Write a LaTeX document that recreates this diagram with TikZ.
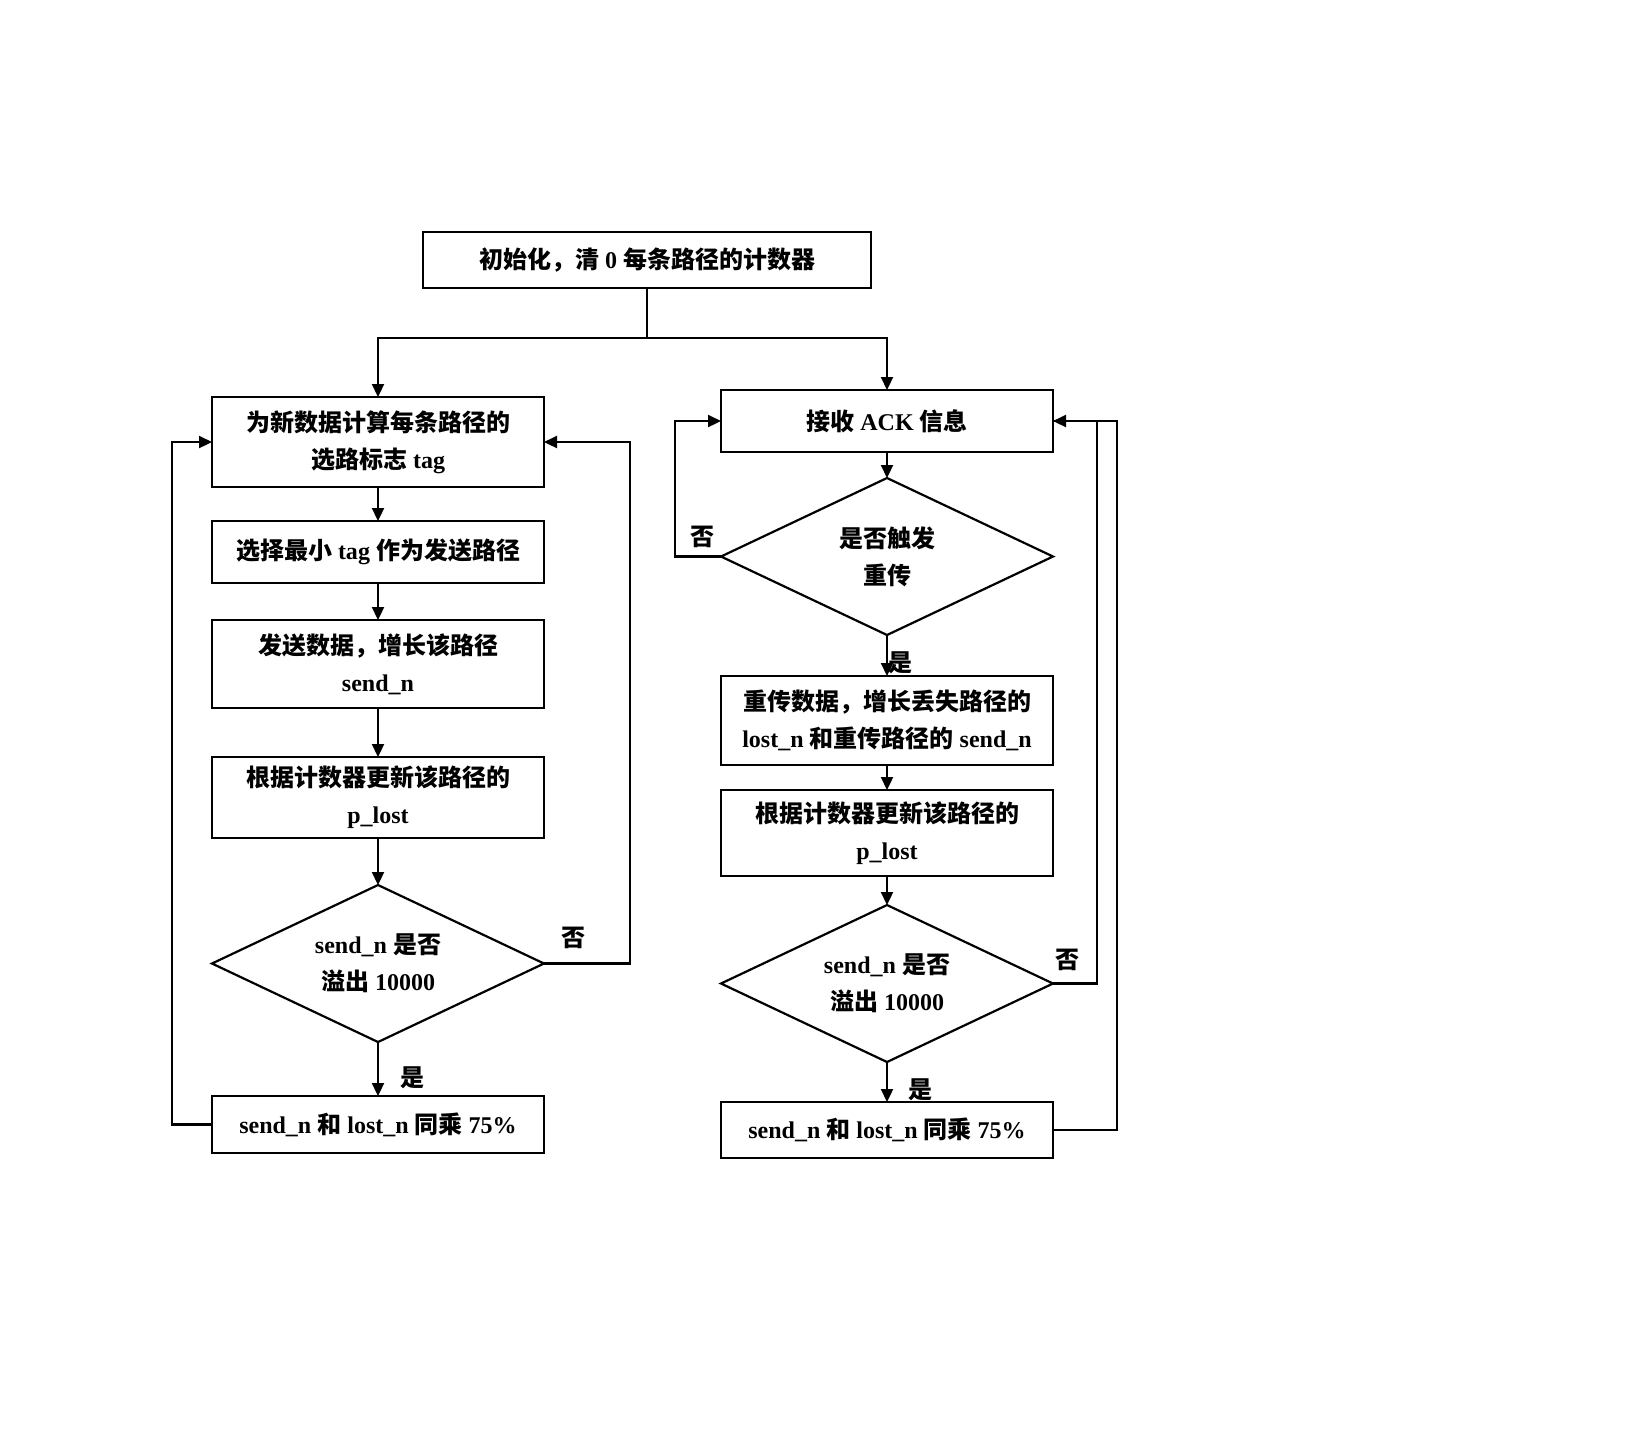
\documentclass[tikz,border=0pt]{standalone}
\usepackage{fontspec}
\setmainfont{Liberation Serif}
\newfontfamily\cjkfont{Noto Sans CJK SC}
\newcommand{\zh}[1]{{\cjkfont #1}}
\usetikzlibrary{positioning,shapes.geometric,arrows.meta}

\tikzset{
	procbox/.style={draw, rectangle, minimum width=166pt, inner sep=0pt, outer sep=0pt, align=center},
	decbox/.style={draw, diamond, aspect=2.1, minimum width=166pt, minimum height=78.5pt, inner sep=0pt, outer sep=0pt, align=center},
	flow/.style={-{Triangle[length=6.5pt,width=6pt]}},
	yesno/.style={inner sep=0pt},
}

\begin{document}
\begin{tikzpicture}[
		x=0.5pt, y=-0.5pt,
		line width=1.1pt,
		font=\fontsize{12pt}{18.5pt}\selectfont\bfseries,
	]
		\useasboundingbox (0,0) rectangle (1626,1442);

		\node [procbox, minimum width=224pt, minimum height=28pt] (init) at (647,260) {\zh{初始化，清} 0 \zh{每条路径的计数器}};

		% sending side
		\node [procbox, minimum height=45pt] (tagcalc) at (378,442) {\zh{为新数据计算每条路径的}\\\zh{选路标志} tag};
		\node [procbox, minimum height=31pt, below=17pt of tagcalc] (minsel) {\zh{选择最小} tag \zh{作为发送路径}};
		\node [procbox, minimum height=44pt, below=18.5pt of minsel] (send) {\zh{发送数据，增长该路径}\\send\_n};
		\node [procbox, minimum height=40.5pt, below=24.5pt of send] (upd) {\zh{根据计数器更新该路径的}\\p\_lost};
		\node [decbox, below=23.5pt of upd] (ovf) {send\_n \zh{是否}\\\zh{溢出} 10000};
		\node [procbox, minimum height=28.5pt, below=27pt of ovf] (scale) {send\_n \zh{和} lost\_n \zh{同乘} 75\%};

		% ACK side
		\node [procbox, minimum height=31pt] (ack) at (887,421) {\zh{接收} ACK \zh{信息}};
		\node [decbox, below=13pt of ack] (trig) {\zh{是否触发}\\\zh{重传}};
		\node [procbox, minimum height=44.5pt, below=20.5pt of trig] (retx) {\zh{重传数据，增长丢失路径的}\\lost\_n \zh{和重传路径的} send\_n};
		\node [procbox, minimum height=43pt, below=12.5pt of retx] (upd2) {\zh{根据计数器更新该路径的}\\p\_lost};
		\node [decbox, below=14.5pt of upd2] (ovf2) {send\_n \zh{是否}\\\zh{溢出} 10000};
		\node [procbox, minimum height=28pt, below=20pt of ovf2] (scale2) {send\_n \zh{和} lost\_n \zh{同乘} 75\%};

		\draw (init.south) -- ++(0,50) coordinate (split);
		\draw [flow] (split) -| (tagcalc.north);
		\draw [flow] (split) -| (ack.north);

		\foreach \a/\b in {tagcalc/minsel, minsel/send, send/upd, upd/ovf, ovf/scale,
				ack/trig, trig/retx, retx/upd2, upd2/ovf2, ovf2/scale2}
			\draw [flow] (\a.south) -- (\b.north);

		% loops back
		\draw [flow] (scale.west) -- ++(-40,0) |- (tagcalc.west);
		\draw [flow] (ovf.east) -- ++(86,0) |- (tagcalc.east);
		\draw [flow] (trig.west) -- ++(-46,0) |- (ack.west);
		\draw [flow] (ovf2.east) -- ++(44,0) |- (ack.east);
		\draw (scale2.east) -- ++(64,0) |- (ack.east);

		\node [yesno] (no1) at (573,938) {\zh{否}};
		\node [yesno] (yes1) at (412,1078) {\zh{是}};
		\node [yesno] (no2) at (702,537) {\zh{否}};
		\node [yesno] (yes2) at (900,663) {\zh{是}};
		\node [yesno] (no3) at (1067,960) {\zh{否}};
		\node [yesno] (yes3) at (920,1090) {\zh{是}};
	\end{tikzpicture}
\end{document}
